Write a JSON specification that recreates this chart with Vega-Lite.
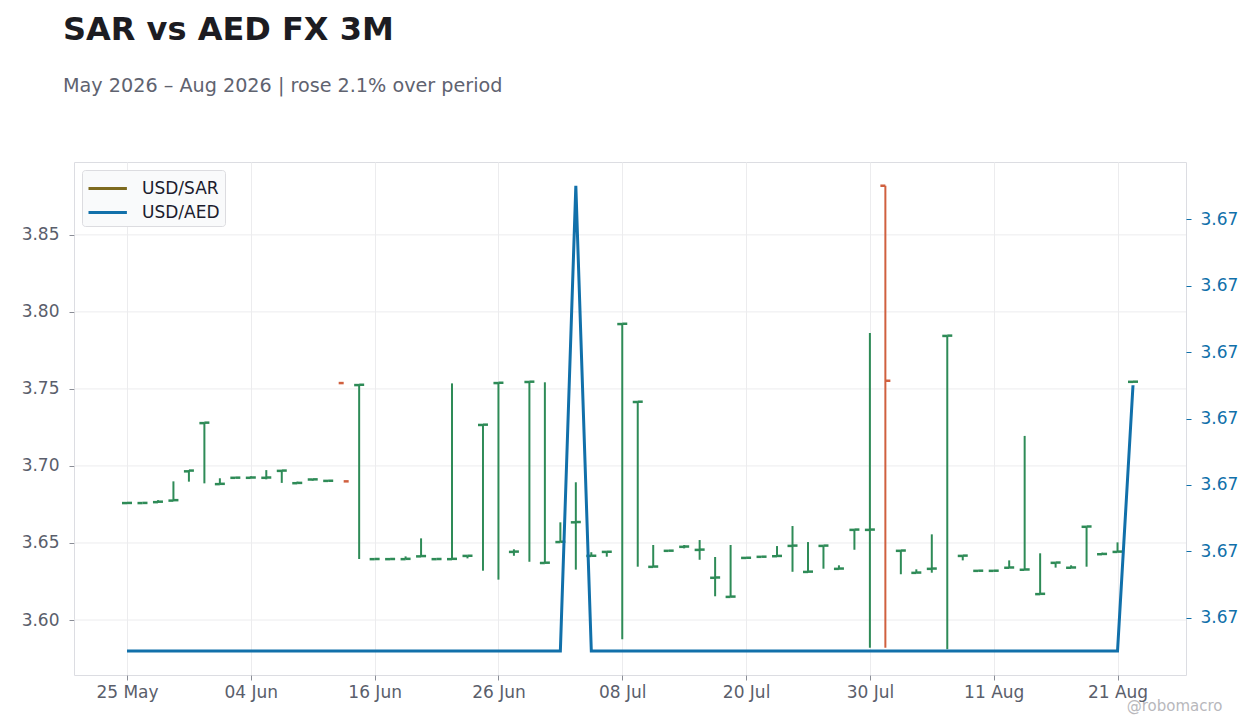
{
  "$schema": "https://vega.github.io/schema/vega-lite/v6.json",
  "width": 1112,
  "height": 513,
  "autosize": {"type": "none"},
  "padding": {"left": 74, "top": 162, "right": 74, "bottom": 53},
  "background": "white",
  "title": {
    "text": "SAR vs AED FX 3M",
    "subtitle": "May 2026 – Aug 2026 | rose 2.1% over period",
    "anchor": "start",
    "frame": "group",
    "dx": -11,
    "offset": 65,
    "font": "DejaVu Sans",
    "fontSize": 32,
    "fontWeight": "bold",
    "color": "#1c1c22",
    "subtitleFont": "DejaVu Sans",
    "subtitleFontSize": 19.2,
    "subtitleColor": "#5f6370",
    "subtitlePadding": 30
  },
  "config": {
    "font": "DejaVu Sans",
    "view": {"stroke": "#dcdde2", "strokeWidth": 1},
    "axis": {
      "domain": false,
      "labelFont": "DejaVu Sans",
      "labelFontSize": 17,
      "labelColor": "#5a5e6b",
      "tickColor": "#8a8d96",
      "tickSize": 5,
      "gridColor": "#ececee",
      "gridWidth": 1
    }
  },
  "datasets": {
    "fx": [
      {"date": "2026-05-25", "open": 3.6759, "high": 3.6761, "low": 3.6758, "close": 3.676, "aed": 3.67255},
      {"date": "2026-05-26", "open": 3.6759, "high": 3.6761, "low": 3.6758, "close": 3.676, "aed": 3.67255},
      {"date": "2026-05-27", "open": 3.6765, "high": 3.6778, "low": 3.6763, "close": 3.6768, "aed": 3.67255},
      {"date": "2026-05-28", "open": 3.6775, "high": 3.69, "low": 3.6772, "close": 3.6778, "aed": 3.67255},
      {"date": "2026-05-29", "open": 3.6965, "high": 3.6972, "low": 3.6898, "close": 3.697, "aed": 3.67255},
      {"date": "2026-06-01", "open": 3.7278, "high": 3.7283, "low": 3.6887, "close": 3.7281, "aed": 3.67255},
      {"date": "2026-06-02", "open": 3.6882, "high": 3.692, "low": 3.688, "close": 3.6884, "aed": 3.67255},
      {"date": "2026-06-03", "open": 3.6923, "high": 3.6926, "low": 3.6922, "close": 3.6924, "aed": 3.67255},
      {"date": "2026-06-04", "open": 3.6923, "high": 3.6933, "low": 3.6921, "close": 3.6925, "aed": 3.67255},
      {"date": "2026-06-05", "open": 3.6923, "high": 3.6973, "low": 3.6913, "close": 3.6925, "aed": 3.67255},
      {"date": "2026-06-08", "open": 3.6968, "high": 3.6973, "low": 3.689, "close": 3.697, "aed": 3.67255},
      {"date": "2026-06-09", "open": 3.6888, "high": 3.6898, "low": 3.6886, "close": 3.689, "aed": 3.67255},
      {"date": "2026-06-10", "open": 3.6912, "high": 3.6915, "low": 3.6904, "close": 3.6913, "aed": 3.67255},
      {"date": "2026-06-11", "open": 3.6903, "high": 3.6906, "low": 3.6902, "close": 3.6904, "aed": 3.67255},
      {"date": "2026-06-12", "open": 3.7538, "high": null, "low": null, "close": 3.69, "aed": 3.67255},
      {"date": "2026-06-15", "open": 3.7525, "high": 3.753, "low": 3.6396, "close": 3.7527, "aed": 3.67255},
      {"date": "2026-06-16", "open": 3.6395, "high": 3.6398, "low": 3.6394, "close": 3.6396, "aed": 3.67255},
      {"date": "2026-06-17", "open": 3.6395, "high": 3.6398, "low": 3.6394, "close": 3.6396, "aed": 3.67255},
      {"date": "2026-06-18", "open": 3.6395, "high": 3.6413, "low": 3.6394, "close": 3.6397, "aed": 3.67255},
      {"date": "2026-06-19", "open": 3.6413, "high": 3.653, "low": 3.6411, "close": 3.6415, "aed": 3.67255},
      {"date": "2026-06-22", "open": 3.6395, "high": 3.6398, "low": 3.6394, "close": 3.6396, "aed": 3.67255},
      {"date": "2026-06-23", "open": 3.6395, "high": 3.7536, "low": 3.6394, "close": 3.6397, "aed": 3.67255},
      {"date": "2026-06-24", "open": 3.6416, "high": 3.6419, "low": 3.64, "close": 3.6417, "aed": 3.67255},
      {"date": "2026-06-25", "open": 3.7266, "high": 3.727, "low": 3.632, "close": 3.7268, "aed": 3.67255},
      {"date": "2026-06-26", "open": 3.7538, "high": 3.7542, "low": 3.6262, "close": 3.754, "aed": 3.67255},
      {"date": "2026-06-29", "open": 3.6442, "high": 3.6459, "low": 3.6417, "close": 3.6444, "aed": 3.67255},
      {"date": "2026-06-30", "open": 3.7545, "high": 3.7549, "low": 3.6378, "close": 3.7547, "aed": 3.67255},
      {"date": "2026-07-01", "open": 3.637, "high": 3.7543, "low": 3.6369, "close": 3.6372, "aed": 3.67255},
      {"date": "2026-07-02", "open": 3.6506, "high": 3.6634, "low": 3.6505, "close": 3.6508, "aed": 3.67255},
      {"date": "2026-07-03", "open": 3.6634, "high": 3.6894, "low": 3.6327, "close": 3.6636, "aed": 3.67325},
      {"date": "2026-07-06", "open": 3.6416, "high": 3.644, "low": 3.6414, "close": 3.6417, "aed": 3.67255},
      {"date": "2026-07-07", "open": 3.6442, "high": 3.6445, "low": 3.6411, "close": 3.6443, "aed": 3.67255},
      {"date": "2026-07-08", "open": 3.7921, "high": 3.7925, "low": 3.5875, "close": 3.7923, "aed": 3.67255},
      {"date": "2026-07-09", "open": 3.7415, "high": 3.7419, "low": 3.6346, "close": 3.7417, "aed": 3.67255},
      {"date": "2026-07-10", "open": 3.6345, "high": 3.6487, "low": 3.6343, "close": 3.6347, "aed": 3.67255},
      {"date": "2026-07-13", "open": 3.6449, "high": 3.6452, "low": 3.6448, "close": 3.645, "aed": 3.67255},
      {"date": "2026-07-14", "open": 3.6475, "high": 3.6487, "low": 3.6465, "close": 3.6477, "aed": 3.67255},
      {"date": "2026-07-15", "open": 3.6455, "high": 3.6519, "low": 3.6391, "close": 3.6457, "aed": 3.67255},
      {"date": "2026-07-16", "open": 3.6274, "high": 3.6409, "low": 3.6154, "close": 3.6276, "aed": 3.67255},
      {"date": "2026-07-17", "open": 3.615, "high": 3.6487, "low": 3.6148, "close": 3.6152, "aed": 3.67255},
      {"date": "2026-07-20", "open": 3.6403, "high": 3.6406, "low": 3.6402, "close": 3.6404, "aed": 3.67255},
      {"date": "2026-07-21", "open": 3.641, "high": 3.6413, "low": 3.6409, "close": 3.6411, "aed": 3.67255},
      {"date": "2026-07-22", "open": 3.6414, "high": 3.648, "low": 3.6412, "close": 3.6416, "aed": 3.67255},
      {"date": "2026-07-23", "open": 3.6481, "high": 3.661, "low": 3.6313, "close": 3.6483, "aed": 3.67255},
      {"date": "2026-07-24", "open": 3.6312, "high": 3.6506, "low": 3.631, "close": 3.6314, "aed": 3.67255},
      {"date": "2026-07-27", "open": 3.6481, "high": 3.6484, "low": 3.6333, "close": 3.6483, "aed": 3.67255},
      {"date": "2026-07-28", "open": 3.6332, "high": 3.6355, "low": 3.633, "close": 3.6334, "aed": 3.67255},
      {"date": "2026-07-29", "open": 3.6585, "high": 3.6589, "low": 3.6456, "close": 3.6587, "aed": 3.67255},
      {"date": "2026-07-30", "open": 3.6585, "high": 3.7863, "low": 3.582, "close": 3.6587, "aed": 3.67255},
      {"date": "2026-07-31", "open": 3.8819, "high": 3.8819, "low": 3.582, "close": 3.7553, "aed": 3.67255},
      {"date": "2026-08-03", "open": 3.6449, "high": 3.6452, "low": 3.6297, "close": 3.6451, "aed": 3.67255},
      {"date": "2026-08-04", "open": 3.6306, "high": 3.6329, "low": 3.6304, "close": 3.6308, "aed": 3.67255},
      {"date": "2026-08-05", "open": 3.6332, "high": 3.6556, "low": 3.6307, "close": 3.6334, "aed": 3.67255},
      {"date": "2026-08-06", "open": 3.7844, "high": 3.7847, "low": 3.581, "close": 3.7846, "aed": 3.67255},
      {"date": "2026-08-07", "open": 3.6416, "high": 3.6419, "low": 3.6387, "close": 3.6418, "aed": 3.67255},
      {"date": "2026-08-10", "open": 3.6319, "high": 3.6322, "low": 3.6318, "close": 3.632, "aed": 3.67255},
      {"date": "2026-08-11", "open": 3.6319, "high": 3.6322, "low": 3.6318, "close": 3.632, "aed": 3.67255},
      {"date": "2026-08-12", "open": 3.6339, "high": 3.6387, "low": 3.6337, "close": 3.6341, "aed": 3.67255},
      {"date": "2026-08-13", "open": 3.6326, "high": 3.7195, "low": 3.6324, "close": 3.6328, "aed": 3.67255},
      {"date": "2026-08-14", "open": 3.6168, "high": 3.6433, "low": 3.6166, "close": 3.617, "aed": 3.67255},
      {"date": "2026-08-17", "open": 3.6371, "high": 3.6374, "low": 3.634, "close": 3.6373, "aed": 3.67255},
      {"date": "2026-08-18", "open": 3.6339, "high": 3.6355, "low": 3.6337, "close": 3.6341, "aed": 3.67255},
      {"date": "2026-08-19", "open": 3.6605, "high": 3.6608, "low": 3.6346, "close": 3.6607, "aed": 3.67255},
      {"date": "2026-08-20", "open": 3.6427, "high": 3.6437, "low": 3.6426, "close": 3.6429, "aed": 3.67255},
      {"date": "2026-08-21", "open": 3.6442, "high": 3.6504, "low": 3.644, "close": 3.6444, "aed": 3.67255},
      {"date": "2026-08-24", "open": 3.7546, "high": 3.7549, "low": 3.7545, "close": 3.7547, "aed": 3.67295}
    ],
    "gridlevels": [
      {"level": 3.6}, {"level": 3.65}, {"level": 3.7}, {"level": 3.75}, {"level": 3.8}, {"level": 3.85}
    ]
  },
  "data": {"name": "fx"},
  "layer": [
    {
      "layer": [
        {
          "data": {"name": "gridlevels"},
          "mark": {"type": "rule", "color": "#ececee", "strokeWidth": 1},
          "encoding": {
            "y": {"field": "level", "type": "quantitative"}
          }
        },
        {
          "mark": {"type": "rule", "strokeWidth": 2},
          "encoding": {
            "x": {
              "field": "date",
              "type": "ordinal",
              "sort": "ascending",
              "scale": {"type": "point", "padding": 0, "range": [53, 1059]},
              "axis": {
                "values": ["2026-05-25", "2026-06-04", "2026-06-16", "2026-06-26", "2026-07-08", "2026-07-20", "2026-07-30", "2026-08-11", "2026-08-21"],
                "labelExpr": "utcFormat(toDate(datum.value), '%d %b')",
                "labelAngle": 0,
                "labelPadding": 4,
                "grid": true,
                "title": "@robomacro",
                "titleColor": "#b8b8bc",
                "titleFontSize": 15,
                "titleFontWeight": "normal",
                "titleX": 1148,
                "titleY": 35,
                "titleAlign": "right",
                "titleBaseline": "alphabetic",
                "titleAngle": 0
              }
            },
            "y": {
              "field": "low",
              "type": "quantitative",
              "scale": {"domain": [3.5643, 3.8973], "nice": false, "zero": false},
              "axis": {
                "orient": "left",
                "values": [3.6, 3.65, 3.7, 3.75, 3.8, 3.85],
                "format": ".2f",
                "grid": false,
                "labelPadding": 10,
                "title": null
              }
            },
            "y2": {"field": "high"},
            "color": {"condition": {"test": "datum.close >= datum.open", "value": "#2e8b57"}, "value": "#d0603f"}
          }
        },
        {
          "mark": {"type": "tick", "orient": "horizontal", "size": 5, "thickness": 2.5, "xOffset": -2.5, "opacity": 1},
          "encoding": {
            "x": {"field": "date", "type": "ordinal", "sort": "ascending"},
            "y": {"field": "open", "type": "quantitative"},
            "color": {"condition": {"test": "datum.close >= datum.open", "value": "#2e8b57"}, "value": "#d0603f"}
          }
        },
        {
          "mark": {"type": "tick", "orient": "horizontal", "size": 5, "thickness": 2.5, "xOffset": 2.5, "opacity": 1},
          "encoding": {
            "x": {"field": "date", "type": "ordinal", "sort": "ascending"},
            "y": {"field": "close", "type": "quantitative"},
            "color": {"condition": {"test": "datum.close >= datum.open", "value": "#2e8b57"}, "value": "#d0603f"}
          }
        }
      ]
    },
    {
      "mark": {"type": "line", "strokeWidth": 3},
      "encoding": {
        "x": {"field": "date", "type": "ordinal", "sort": "ascending"},
        "y": {
          "field": "aed",
          "type": "quantitative",
          "scale": {"domain": [3.672514, 3.673286], "nice": false, "zero": false},
          "axis": {
            "orient": "right",
            "values": [3.6726, 3.6727, 3.6728, 3.6729, 3.673, 3.6731, 3.6732],
            "format": ".2f",
            "grid": false,
            "labelColor": "#1170aa",
            "tickColor": "#1170aa",
            "labelPadding": 9,
            "title": null
          }
        },
        "color": {
          "datum": "USD/AED",
          "type": "nominal",
          "scale": {"domain": ["USD/SAR", "USD/AED"], "range": ["#7d6a1f", "#1170aa"]},
          "legend": {
            "orient": "top-left",
            "offset": 8,
            "title": null,
            "padding": 5,
            "fillColor": "#f9fafb",
            "strokeColor": "#dcdce0",
            "cornerRadius": 3,
            "symbolType": "M-1,0H2.2",
            "symbolSize": 576,
            "symbolStrokeWidth": 3,
            "rowPadding": 2,
            "labelOffset": 28,
            "labelFontSize": 17,
            "labelColor": "#1c1c2e"
          }
        }
      }
    }
  ],
  "resolve": {"scale": {"y": "independent"}}
}
